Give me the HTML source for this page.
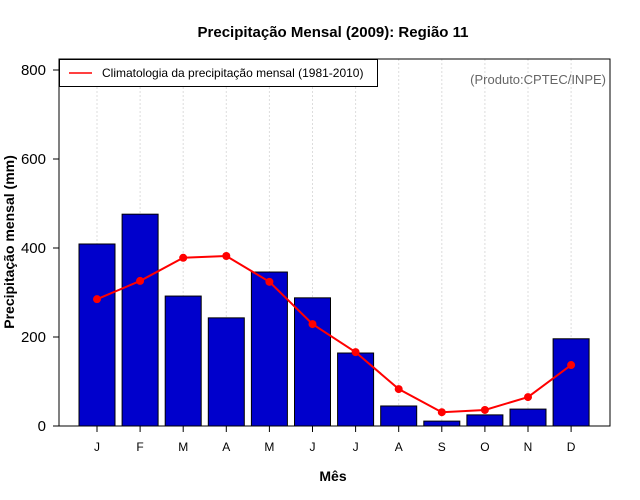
<!DOCTYPE html>
<html><head><meta charset="utf-8"><style>
html,body{margin:0;padding:0;background:#fff;}
svg{display:block;font-family:"Liberation Sans",sans-serif;}
</style></head><body>
<svg id="chart" width="640" height="500">
<text x="333" y="37" text-anchor="middle" font-weight="bold" font-size="15">Precipitação Mensal (2009): Região 11</text>
<text x="333" y="481" text-anchor="middle" font-weight="bold" font-size="14">Mês</text>
<text transform="translate(14,242) rotate(-90)" text-anchor="middle" font-weight="bold" font-size="14">Precipitação mensal (mm)</text>
<g id="grid"></g><g id="bars"></g><g id="line"></g><g id="axes"></g>
<rect x="59" y="59" width="551" height="367" fill="none" stroke="#000" stroke-width="1"/>
<g>
<rect x="59.5" y="59.5" width="318" height="27" fill="#fff" stroke="#000"/>
<line x1="69" y1="73" x2="92" y2="73" stroke="red" stroke-width="1.5"/>
<text x="102" y="77" font-size="12">Climatologia da precipitação mensal (1981-2010)</text>
</g>
<text x="606" y="84" text-anchor="end" font-size="13" fill="#666">(Produto:CPTEC/INPE)</text>
</svg>
<script>
const months = ["J","F","M","A","M","J","J","A","S","O","N","D"];
const precip2009 = [409,476,292,243,346,288,164,45,11,25,38,196];
const climatology = [285,326,378,382,324,229,166,83,31,36,65,137];
const yTicks = [0,200,400,600,800];
const NS="http://www.w3.org/2000/svg";
function xPos(i){return 97+i*43.1;}
function yPos(v){return 426-v*0.445;}
function mk(tag,attrs,parent){const e=document.createElementNS(NS,tag);for(const k in attrs)e.setAttribute(k,attrs[k]);parent.appendChild(e);return e;}
const grid=document.getElementById('grid'),bars=document.getElementById('bars'),line=document.getElementById('line'),axes=document.getElementById('axes');
months.forEach((m,i)=>{
  const g=mk('line',{x1:xPos(i),x2:xPos(i),y1:59,y2:426,stroke:'#ddd','stroke-dasharray':'2,2'},grid);
  
  
  const b=mk('rect',{x:xPos(i)-18,y:yPos(precip2009[i]),width:36,height:precip2009[i]*0.445,fill:'#0000cc',stroke:'#000','stroke-width':1},bars);
  
  
  const t=mk('line',{x1:xPos(i),x2:xPos(i),y1:426,y2:432,stroke:'#000'},axes);
  
  
  const l=mk('text',{x:xPos(i),y:451,'text-anchor':'middle','font-size':12},axes);
  l.textContent=m;
  
  
});
const pl=mk('polyline',{points:climatology.map((v,i)=>xPos(i)+','+yPos(v)).join(' '),fill:'none',stroke:'red','stroke-width':2},line);


climatology.forEach((v,i)=>{
  const c=mk('circle',{cx:xPos(i),cy:yPos(v),r:4,fill:'red'},line);
  
  
});
yTicks.forEach(v=>{
  const t=mk('line',{x1:53,x2:59,y1:yPos(v),y2:yPos(v),stroke:'#000'},axes);
  
  
  const l=mk('text',{x:46,y:yPos(v)+5,'text-anchor':'end','font-size':15},axes);
  l.textContent=v;
  
  
});
</script>
</body></html>
